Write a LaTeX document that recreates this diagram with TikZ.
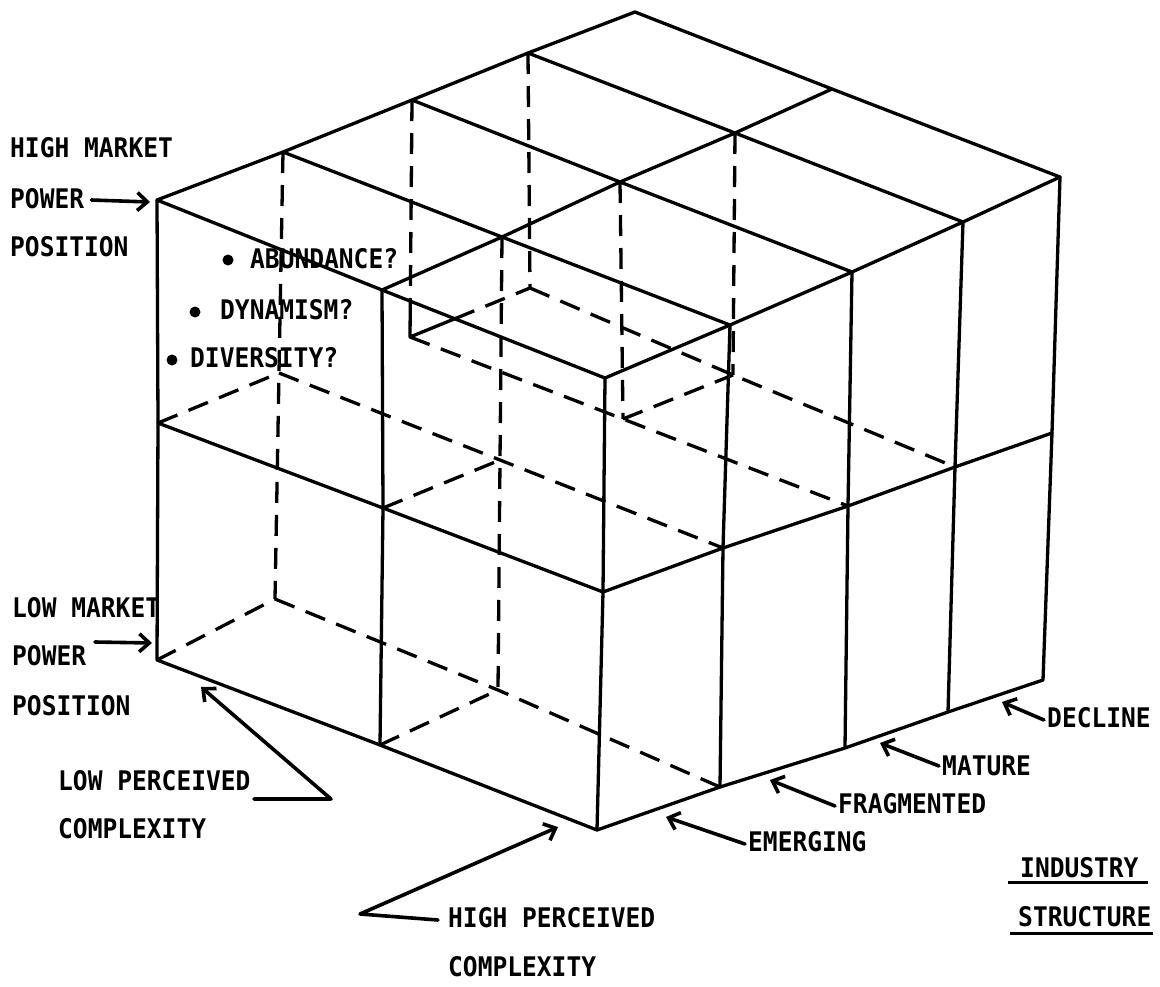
\documentclass[tikz,border=0pt]{standalone}
\usepackage{fontspec}
\newfontfamily\labf{DejaVu Sans Mono}[FakeStretch=0.91]
\usetikzlibrary{arrows.meta}
\begin{document}
\begin{tikzpicture}[x=1pt,y=-1pt,
  edge/.style={line width=3.3pt,line cap=round,line join=round},
  hid/.style={line width=3.3pt,dash pattern=on 21pt off 12pt},
  lab/.style={anchor=west,inner sep=0pt,font=\labf\bfseries\fontsize{27}{30}\selectfont},
  dot/.style={circle,fill=black,inner sep=0pt,minimum size=11pt},
  larrow/.style={line width=3.6pt,line cap=round,line join=round,-{Straight Barb[length=10pt,width=18pt]}},
  uline/.style={line width=3.3pt}]
\fill[white] (0,0) rectangle (1160,986);
\useasboundingbox (0,0) rectangle (1160,986);
% ---- grid points p<i><j><k>
\coordinate (p022) at (157,200);
\coordinate (p122) at (283,152);
\coordinate (p222) at (412,100);
\coordinate (p322) at (528,53);
\coordinate (p422) at (635,12);
\coordinate (p012) at (382,290);
\coordinate (p112) at (502,237);
\coordinate (p212) at (620,182);
\coordinate (p312) at (735,133);
\coordinate (p412) at (832,89);
\coordinate (p002) at (605,378);
\coordinate (p102) at (730,325);
\coordinate (p202) at (852,272);
\coordinate (p302) at (963,222);
\coordinate (p402) at (1060,177);
\coordinate (p001) at (603,592);
\coordinate (p101) at (723,548);
\coordinate (p201) at (848,506);
\coordinate (p301) at (955,467);
\coordinate (p401) at (1052,433);
\coordinate (p000) at (597,830);
\coordinate (p100) at (720,787);
\coordinate (p200) at (845,748);
\coordinate (p300) at (948,712);
\coordinate (p400) at (1043,680);
\coordinate (p011) at (383,508);
\coordinate (p021) at (158,423);
\coordinate (p010) at (380,745);
\coordinate (p020) at (157,660);
\coordinate (p121) at (279,373);
\coordinate (p120) at (275,599);
\coordinate (p111) at (500,460);
\coordinate (p110) at (498,690);
\coordinate (p221) at (410,337);
\coordinate (p321) at (530,288);
\coordinate (p211) at (623,419);
\coordinate (p311) at (733,375);
\coordinate (q1) at (intersection of p221--p222 and p012--p002);
\coordinate (q2) at (intersection of p221--p321 and p012--p002);
% ---- hidden edges
\draw[hid] (p122) -- (p121) -- (p120);
\draw[hid] (p112) -- (p111) -- (p110);
\draw[hid] (p021) -- (p121);
\draw[hid] (p121) -- (p111) -- (p101);
\draw[hid] (p011) -- (p111);
\draw[hid] (p020) -- (p120);
\draw[hid] (p120) -- (p110) -- (p100);
\draw[hid] (p010) -- (p110);
\draw[hid] (p222) -- (q1);
\draw[hid] (q2) -- (p321);
\draw[hid] (p322) -- (p321);
\draw[hid] (p212) -- (p211);
\draw[hid] (p312) -- (p311);
\draw[hid] (p221) -- (p211) -- (p201);
\draw[hid] (p321) -- (p311) -- (p301);
\draw[hid] (p211) -- (p311);
\draw[edge] (q1) -- (p221) -- (q2);
% ---- top face
\draw[edge] (p022) -- (p122) -- (p222) -- (p322) -- (p422) -- (p412) -- (p402)
  -- (p302) -- (p202) -- (p102) -- (p002) -- (p012) -- cycle;
\draw[edge] (p122) -- (p112) -- (p102);
\draw[edge] (p222) -- (p212) -- (p202);
\draw[edge] (p322) -- (p312) -- (p302);
\draw[edge] (p012) -- (p112) -- (p212) -- (p312) -- (p412);
% ---- left face
\draw[edge] (p022) -- (p021) -- (p020) -- (p010) -- (p000) -- (p001) -- (p002);
\draw[edge] (p021) -- (p011) -- (p001);
\draw[edge] (p012) -- (p011) -- (p010);
% ---- right face
\draw[edge] (p000) -- (p100) -- (p200) -- (p300) -- (p400) -- (p401) -- (p402);
\draw[edge] (p001) -- (p101) -- (p201) -- (p301) -- (p401);
\draw[edge] (p102) -- (p101) -- (p100);
\draw[edge] (p202) -- (p201) -- (p200);
\draw[edge] (p302) -- (p301) -- (p300);
% ---- labels
\node[lab] (hm1) at (10,148) {HIGH MARKET};
\node[lab] (hm2) at (10,199) {POWER};
\node[lab] (hm3) at (10,247) {POSITION};
\node[dot] (b1) at (228,260) {};
\node[dot] (b2) at (195,312) {};
\node[dot] (b3) at (172,360) {};
\node[lab] (ab) at (250,259) {ABUNDANCE?};
\node[lab] (dy) at (220,310) {DYNAMISM?};
\node[lab] (dv) at (190,358) {DIVERSITY?};
\node[lab] (lm1) at (12,608) {LOW MARKET};
\node[lab] (lm2) at (12,656) {POWER};
\node[lab] (lm3) at (12,706) {POSITION};
\node[lab] (lp1) at (58,781) {LOW PERCEIVED};
\node[lab] (lp2) at (58,829) {COMPLEXITY};
\node[lab] (hp1) at (448,918) {HIGH PERCEIVED};
\node[lab] (hp2) at (448,967) {COMPLEXITY};
\node[lab] (em) at (748,842) {EMERGING};
\node[lab] (fr) at (838,804) {FRAGMENTED};
\node[lab] (ma) at (942,766) {MATURE};
\node[lab] (de) at (1047,718) {DECLINE};
\node[lab] (in) at (1020,868) {INDUSTRY};
\node[lab] (st) at (1018,917) {STRUCTURE};
% ---- arrows
\coordinate (ta) at (150,202);
\coordinate (tb0) at (95,642);
\coordinate (tb) at (152,643);
\coordinate (lc0) at (254,799);
\coordinate (lc1) at (331,799);
\coordinate (lc2) at (201,687);
\coordinate (hc1) at (360,914);
\coordinate (hc2) at (558,827);
\coordinate (te) at (666,817);
\coordinate (tf) at (770,780);
\coordinate (tm) at (880,743);
\coordinate (td) at (1002,702);
\draw[larrow] ([xshift=7pt,yshift=-1pt]hm2.east) -- (ta);
\draw[larrow] (tb0) -- (tb);
\draw[larrow] (lc0) -- (lc1) -- (lc2);
\draw[larrow] ([xshift=-10pt,yshift=-2pt]hp1.west) -- (hc1) -- (hc2);
\draw[larrow] ([xshift=-3pt,yshift=-2pt]em.west) -- (te);
\draw[larrow] ([xshift=-3pt,yshift=-2pt]fr.west) -- (tf);
\draw[larrow] ([xshift=-3pt]ma.west) -- (tm);
\draw[larrow] ([xshift=-3pt,yshift=-2pt]de.west) -- (td);
% ---- underlines
\draw[uline] ([xshift=-12pt,yshift=-4pt]in.south west) -- ([xshift=9pt,yshift=-4pt]in.south east);
\draw[uline] ([xshift=-8pt,yshift=-6pt]st.south west) -- ([xshift=1pt,yshift=-6pt]st.south east);
\end{tikzpicture}
\end{document}
